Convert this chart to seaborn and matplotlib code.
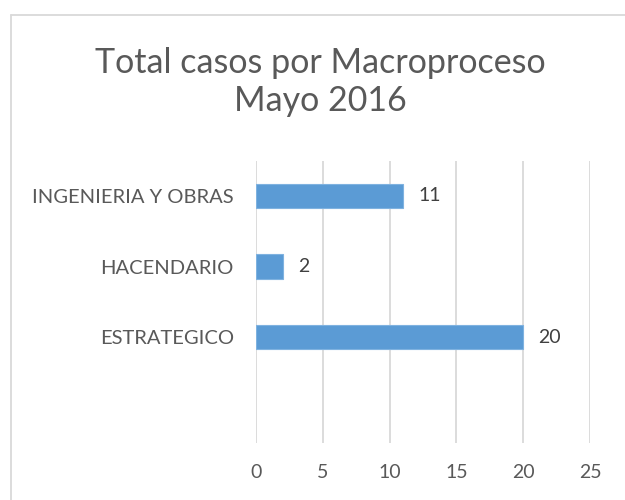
import matplotlib
matplotlib.use("Agg")
import matplotlib.pyplot as plt
import seaborn as sns
import pandas as pd
from matplotlib.lines import Line2D

# datos
categorias = ["INGENIERIA Y OBRAS", "HACENDARIO", "ESTRATEGICO"]
casos = [11, 2, 20]
ticks_x = [0, 5, 10, 15, 20, 25]
titulo = "Total casos por Macroproceso\nMayo 2016"

sns.set_style("white")
plt.rcParams['font.family'] = ['Lato', 'DejaVu Sans']

df = pd.DataFrame({"Macroproceso": categorias, "Casos": casos})

fig = plt.figure(figsize=(6.25, 5), dpi=100)
ax = fig.add_axes([256 / 625, 1 - 443 / 500, (590 - 256) / 625, (443 - 160.7) / 500])

sns.barplot(data=df, y="Macroproceso", x="Casos", orient="h", color="#5b9bd5",
            width=0.35, edgecolor="#7fb2e0", linewidth=0.8, saturation=1, ax=ax, zorder=3)

ax.set_xlim(0, 25)
# una fila vacia abajo, como en el original
ax.set_ylim(3.5, -0.5)
ax.set_xticks(ticks_x)
ax.grid(axis="x", color="#d9d9d9", linewidth=1.3, zorder=0)
ax.grid(axis="y", visible=False)
for s in ax.spines.values():
    s.set_visible(False)
ax.set_xlabel("")
ax.set_ylabel("")
ax.tick_params(axis="x", length=0, pad=15, labelsize=14, labelcolor="#595959")
ax.tick_params(axis="y", length=0, pad=16, labelsize=14.5, labelcolor="#595959")

# etiquetas de datos
for i, v in enumerate(casos):
    ax.annotate(str(v), (v, i), xytext=(11, 0), textcoords="offset points",
                ha="left", va="center", fontsize=14, color="#404040")

fig.text(320 / 625, 1 - 82 / 500, titulo, ha="center", va="center", fontsize=24.5,
         color="#595959", linespacing=1.25)

# borde del grafico
fig.add_artist(Line2D([11 / 625, 11 / 625], [0, 1 - 15 / 500], color="#d9d9d9", linewidth=1.3))
fig.add_artist(Line2D([11 / 625, 1], [1 - 15 / 500, 1 - 15 / 500], color="#d9d9d9", linewidth=1.3))

fig.savefig("out.png", dpi=100)
